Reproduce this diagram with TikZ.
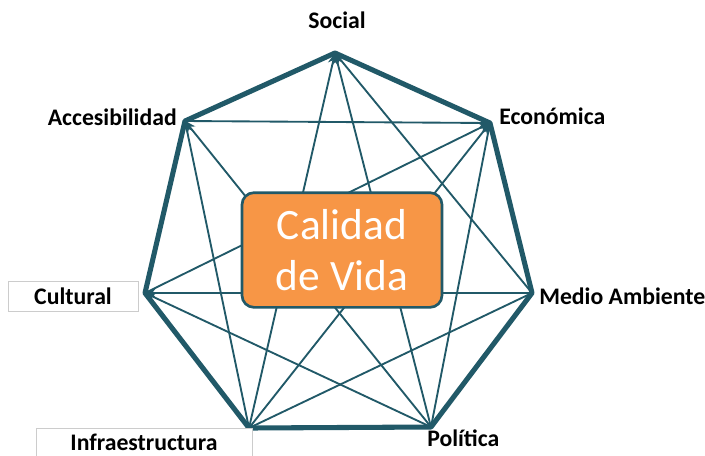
\documentclass[tikz,border=0pt]{standalone}
\usepackage{fontspec}
\setmainfont{Carlito}
\usetikzlibrary{arrows.meta}
\definecolor{teal1}{RGB}{33,89,104}
\definecolor{orange1}{RGB}{247,150,70}
\begin{document}
\begin{tikzpicture}[x=0.75pt,y=-0.75pt,
  rim/.style={draw=teal1,line width=3.8pt,line join=round},
  diag/.style={draw=teal1,line width=1.4pt},
  diagarr/.style={diag,-{Stealth[length=8pt,width=7pt]}},
  lbl/.style={font=\fontsize{17.8}{21}\selectfont\bfseries,text=black,inner sep=0pt},
  framebox/.style={draw=black!20,line width=0.6pt,fill=white},
  lblbox/.style={lbl,framebox},
  centre/.style={draw=teal1,line width=2pt,fill=orange1,rounded corners=9pt,
    minimum width=150pt,minimum height=86pt,align=center,text=white,
    font=\fontsize{32.5}{38}\selectfont}]
\useasboundingbox (0,0) rectangle (705,455);
\coordinate (S) at (335,53);
\coordinate (E) at (490,123);
\coordinate (M) at (532,293);
\coordinate (P) at (431,427);
\coordinate (I) at (249,428);
\coordinate (C) at (145,293);
\coordinate (A) at (185,121);
% diagonals
\draw[diagarr] (I) -- (S);
\draw[diagarr] (P) -- (S);
\draw[diagarr] (M) -- (S);
\draw[diagarr] (C) -- (E);
\draw[diagarr] (I) -- (E);
\draw[diagarr] (P) -- (E);
\draw[diagarr] (A) -- (E);
\draw[diagarr] (P) -- (A);
\draw[diagarr] (I) -- (A);
\draw[diagarr] (M) -- (C);
\draw[diagarr] (P) -- (C);
\draw[diag] (M) -- (I);
% heptagon
\draw[rim] (S) -- (E) -- (M) -- (P) -- (I) -- (C) -- (A) -- cycle;
% centre
\node[centre] (Q) at (342,250) {Calidad\\de Vida};
% labels
\node[lbl] (lS) at (337,20) {Social};
\node[lbl,anchor=west] (lE) at (499,116) {Económica};
\node[lbl,anchor=east] (lA) at (177,117) {Accesibilidad};
\node[lbl,anchor=west] (lM) at (539,296) {Medio Ambiente};
\node[lbl,anchor=west] (lP) at (427,438) {Política};
\node[lblbox,minimum width=97.5pt,minimum height=22.5pt] (lC) at (73,296) {Cultural};
\path[framebox] (36,428) rectangle (252,462);
\node[lbl] (lI) at (144,442) {Infraestructura};
\end{tikzpicture}
\end{document}
